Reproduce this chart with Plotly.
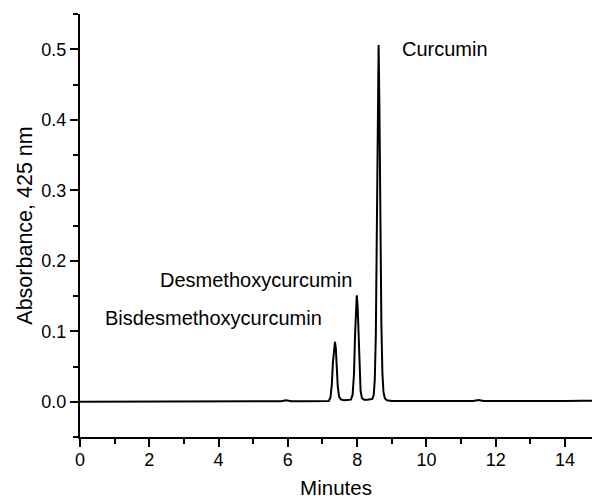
import plotly.graph_objects as go

# Chromatogram trace (minutes, absorbance at 425 nm)
time_min = [0.0, 0.5, 1.0, 1.5, 2.0, 2.5, 3.0, 3.5, 4.0, 4.5, 5.0, 5.5, 5.8, 5.95, 6.1, 6.5, 7.0, 7.1,
            7.18, 7.23, 7.27, 7.30, 7.335, 7.36, 7.385, 7.41, 7.44, 7.48, 7.54, 7.62, 7.72,
            7.82, 7.87, 7.91, 7.94, 7.965, 7.99, 8.015, 8.04, 8.07, 8.10, 8.14, 8.20, 8.30, 8.38,
            8.44, 8.48, 8.51, 8.54, 8.57, 8.595, 8.62, 8.645, 8.67, 8.70, 8.73, 8.76, 8.80, 8.86,
            9.0, 9.5, 10.0, 10.5, 11.0, 11.35, 11.5, 11.65, 12.0, 12.5, 13.0, 13.5, 14.0, 14.5, 14.8]
absorbance = [0.000, 0.000, 0.0005, 0.000, 0.0005, 0.0003, 0.0005, 0.0005, 0.0003, 0.0007, 0.0005, 0.0008, 0.0008, 0.0022, 0.0008, 0.0008, 0.0008, 0.0008,
              0.001, 0.006, 0.025, 0.055, 0.080, 0.085, 0.076, 0.052, 0.022, 0.007, 0.003, 0.002, 0.002,
              0.003, 0.010, 0.040, 0.095, 0.138, 0.151, 0.135, 0.095, 0.045, 0.015, 0.005, 0.003, 0.003, 0.003,
              0.004, 0.010, 0.032, 0.095, 0.235, 0.400, 0.506, 0.410, 0.250, 0.110, 0.040, 0.014, 0.005, 0.002,
              0.0012, 0.0012, 0.001, 0.0012, 0.0012, 0.0012, 0.0025, 0.0012, 0.0012, 0.001, 0.0012, 0.0012, 0.0012, 0.0015, 0.0015]

peak_names = ["Curcumin", "Desmethoxycurcumin", "Bisdesmethoxycurcumin"]
label_x = [9.24, 2.25, 0.66]
label_y = [0.501, 0.173, 0.119]

FONT = "Liberation Sans, Arial, sans-serif"

fig = go.Figure()
fig.add_trace(go.Scatter(x=time_min, y=absorbance, mode="lines",
                         line=dict(color="black", width=2), showlegend=False, hoverinfo="skip"))

for name, lx, ly in zip(peak_names, label_x, label_y):
    fig.add_annotation(x=lx, y=ly, text=name, showarrow=False, xanchor="left", yanchor="middle",
                       font=dict(family=FONT, size=20, color="black"))

fig.update_layout(
    width=592, height=499,
    margin=dict(l=80, r=0, t=14, b=62, autoexpand=False),
    paper_bgcolor="white", plot_bgcolor="white",
    font=dict(family=FONT, color="black"),
)
fig.update_xaxes(
    range=[0, 14.78], showgrid=False, zeroline=False, automargin=False,
    showline=True, linecolor="black", linewidth=2,
    ticks="outside", tickcolor="black", ticklen=8, tickwidth=2,
    tick0=0, dtick=2, tickfont=dict(size=18), ticklabelstandoff=-3,
    minor=dict(ticks="outside", dtick=1, ticklen=5, tickwidth=2, tickcolor="black", showgrid=False),
    title=dict(text="Minutes", font=dict(size=20.5), standoff=12),
)
fig.update_yaxes(
    range=[-0.05, 0.55], showgrid=False, zeroline=False, automargin=False,
    showline=True, linecolor="black", linewidth=2,
    ticks="outside", tickcolor="black", ticklen=8, tickwidth=2,
    tick0=0, dtick=0.1, tickformat=".1f", tickfont=dict(size=18),
    minor=dict(ticks="outside", dtick=0.05, ticklen=5, tickwidth=2, tickcolor="black", showgrid=False),
    title=dict(text="Absorbance, 425 nm", font=dict(size=21.5), standoff=3),
)

fig.write_html("out.html", config={"displayModeBar": False},
               post_script="document.body.style.margin='0';document.body.style.overflow='hidden';")
